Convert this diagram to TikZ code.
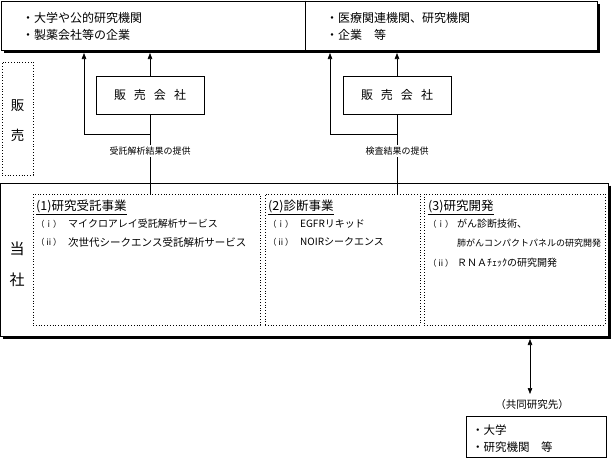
\documentclass[tikz,border=0pt]{standalone}
\usepackage{fontspec}
\setmainfont{Noto Sans CJK JP}
\usetikzlibrary{arrows.meta}
\begin{document}
\begin{tikzpicture}[x=1pt,y=-1pt,
  box/.style={draw,line width=0.6pt,inner sep=0pt},
  shadowline/.style={line width=2.6pt},
  dotbox/.style={draw,dotted,line width=0.8pt,inner sep=0pt},
  arr/.style={-{Triangle[length=6pt,width=4.5pt]},line width=0.6pt},
  darr/.style={{Triangle[length=6pt,width=4.5pt]}-{Triangle[length=6pt,width=4.5pt]},line width=0.6pt},
  txt/.style={anchor=west,inner sep=0pt,font=\fontsize{12}{14}\selectfont},
  item/.style={anchor=west,inner sep=0pt,font=\fontsize{10}{12}\selectfont},
  num/.style={anchor=west,inner sep=0pt,font=\fontsize{8.5}{10}\selectfont},
  head/.style={anchor=west,inner sep=0pt,font=\fontsize{12.5}{15}\selectfont},
  lbl/.style={fill=white,inner sep=1.5pt,font=\fontsize{9}{11}\selectfont},
  sales/.style={box,minimum width=108pt,minimum height=38pt,font=\fontsize{12}{14}\selectfont},
  big/.style={inner sep=0pt,font=\fontsize{15}{17}\selectfont}]
\useasboundingbox (0,0) rectangle (614,459);
% top box
\node[box,minimum width=596pt,minimum height=49pt] (top) at (299,25.5) {};
\draw[shadowline] ([xshift=1.3pt,yshift=-3pt]top.north east) -- ([xshift=1.3pt,yshift=-1.3pt]top.south east) -- ([xshift=3pt,yshift=-1.3pt]top.south west);
\draw[line width=0.6pt] ([xshift=6pt]top.north) -- ([xshift=6pt]top.south);
\coordinate (topbot) at (0,53);
\node[txt] (t1) at (22,18) {・大学や公的研究機関};
\node[txt] (t2) at (22,35) {・製薬会社等の企業};
\node[txt] (t3) at (326,18) {・医療関連機関、研究機関};
\node[txt] (t4) at (326,35) {・企業　等};
% sales label
\node[dotbox,minimum width=31pt,minimum height=113pt] (hb) at (17.5,118.5) {};
\node[big,font=\fontsize{13.5}{15}\selectfont] (h1) at (17.5,106) {販};
\node[big,font=\fontsize{13.5}{15}\selectfont] (h2) at (17.5,135) {売};
% sales companies
\node[sales] (s1) at (150,95) {販\hspace{8pt}売\hspace{8pt}会\hspace{8pt}社};
\node[sales] (s2) at (397,95) {販\hspace{8pt}売\hspace{8pt}会\hspace{8pt}社};
% main box
\node[box,minimum width=608pt,minimum height=153pt] (main) at (304.5,259.5) {};
\draw[shadowline] ([xshift=1.3pt,yshift=-3pt]main.north east) -- ([xshift=1.3pt,yshift=-1.3pt]main.south east) -- ([xshift=3pt,yshift=-1.3pt]main.south west);
\coordinate (mainbot) at (0,339);
\node[big] (m1) at (17,249) {当};
\node[big] (m2) at (17,280) {社};
% business boxes
\node[dotbox,minimum width=227pt,minimum height=131pt] (b1) at (146.5,259.5) {};
\node[dotbox,minimum width=155pt,minimum height=131pt] (b2) at (342.5,259.5) {};
\node[dotbox,minimum width=181pt,minimum height=131pt] (b3) at (514.5,259.5) {};
\node[head] (h11) at (36,207) {\underline{(1)研究受託事業}};
\node[num] (n11) at (36,224) {（ｉ）};
\node[item] (i11) at (68,224) {マイクロアレイ受託解析サービス};
\node[num] (n12) at (36,242) {（ⅱ）};
\node[item,font=\fontsize{10.5}{12}\selectfont] (i12) at (68,242) {次世代シークエンス受託解析サービス};
\node[head] (h21) at (268,207) {\underline{(2)診断事業}};
\node[num] (n21) at (268,224) {（ｉ）};
\node[item] (i21) at (300,224) {EGFRリキッド};
\node[num] (n22) at (268,242) {（ⅱ）};
\node[item] (i22) at (300,242) {NOIRシークエンス};
\node[head] (h31) at (428,207) {\underline{(3)研究開発}};
\node[num] (n31) at (428,224) {（ｉ）};
\node[item] (i31) at (457,224) {がん診断技術、};
\node[item,font=\fontsize{9}{11}\selectfont] (i32) at (457,243) {肺がんコンパクトパネルの研究開発};
\node[num] (n33) at (428,263) {（ⅱ）};
\node[item] (i33) at (457,263) {ＲＮＡﾁｪｯｸの研究開発};
% connectors
\coordinate (j1) at (150,134);
\coordinate (k1) at (84,134);
\coordinate (j2) at (397,134);
\coordinate (k2) at (330,134);
\draw[arr] (s1.north) -- (s1.north |- topbot);
\draw[arr] (s2.north) -- (s2.north |- topbot);
\draw[line width=0.6pt] (s1.south) -- (s1.south |- b1.north);
\draw[line width=0.6pt] (s2.south) -- (s2.south |- b2.north);
\draw[arr] (j1) -- (k1) -- (k1 |- topbot);
\draw[arr] (j2) -- (k2) -- (k2 |- topbot);
\node[lbl] (l1) at (150,151) {受託解析結果の提供};
\node[lbl] (l2) at (397,151) {検査結果の提供};
% joint research
\node[item,anchor=center,font=\fontsize{10.5}{12}\selectfont] (kyo) at (532,405) {（共同研究先）};
\coordinate (da) at (530,394);
\draw[darr] (da |- mainbot) -- (da);
\node[box,minimum width=140pt,minimum height=41pt] (bot) at (536,436.5) {};
\node[txt,font=\fontsize{11.5}{13}\selectfont] (u1) at (472,430) {・大学};
\node[txt,font=\fontsize{11.5}{13}\selectfont] (u2) at (472,447) {・研究機関　等};
\end{tikzpicture}
\end{document}
